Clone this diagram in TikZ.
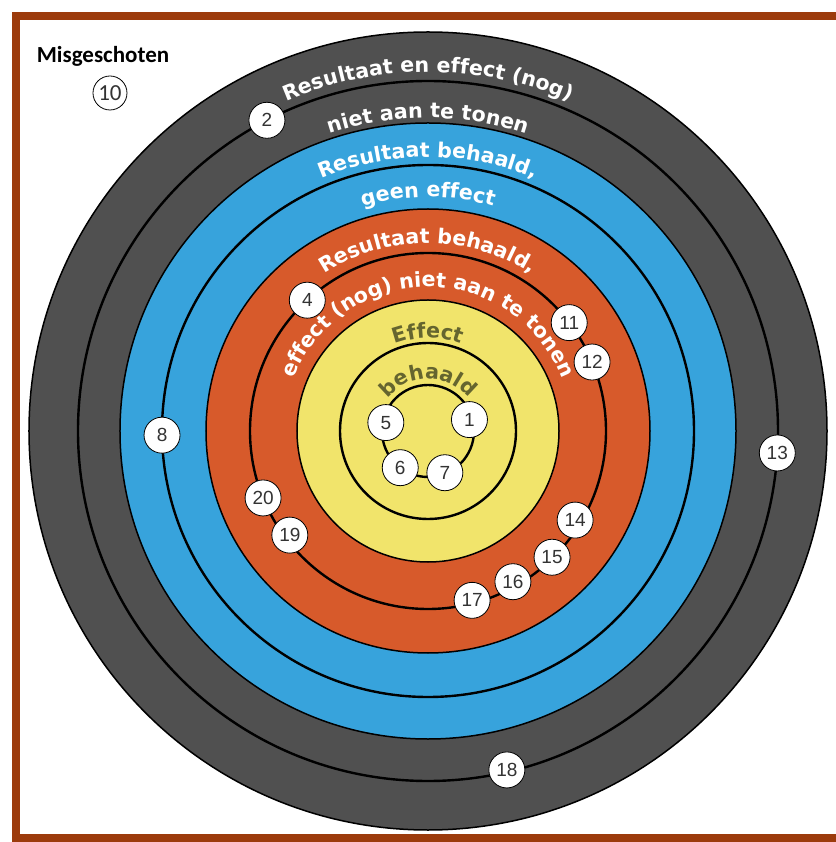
\documentclass[tikz,border=0pt]{standalone}
\usepackage{fontspec}
\usetikzlibrary{decorations.text}
\newfontfamily\ringfont{DejaVu Sans}
\newfontfamily\numfont{Liberation Sans}
\newfontfamily\notefont{Carlito}
\definecolor{framebrown}{HTML}{9C3B0C}
\definecolor{ringgray}{HTML}{505050}
\definecolor{ringblue}{HTML}{37A3DC}
\definecolor{ringred}{HTML}{D75A2B}
\definecolor{ringyellow}{HTML}{F1E46B}
\definecolor{ringolive}{HTML}{65652F}
\tikzset{
  band/.style={draw=black,line width=1.5pt},
  ringline/.style={draw=black,line width=2.4pt},
  shot/.style={circle,draw=black,fill=white,line width=0.8pt,minimum size=36pt,inner sep=0pt,
    font=\numfont\fontsize{19}{19}\selectfont,text=black!80},
  ringtext/.style 2 args={decorate,decoration={text along path,text align=center,text color=#1,
    text={|\ringfont\bfseries\fontsize{20.6}{20.6}\selectfont|#2}}}
}
\begin{document}
\begin{tikzpicture}[x=1pt,y=1pt]
\useasboundingbox (-428,-411) rectangle (407,431);
\draw[framebrown,line width=8pt] (-412,-407) rectangle (412,415);
\coordinate (O) at (0,0);
\filldraw[fill=ringgray,band] (O) circle[radius=399];
\draw[ringline] (O) circle[radius=350];
\filldraw[fill=ringblue,band] (O) circle[radius=308];
\draw[ringline] (O) circle[radius=266];
\filldraw[fill=ringred,band] (O) circle[radius=222];
\draw[ringline] (O) circle[radius=178];
\filldraw[fill=ringyellow,band] (O) circle[radius=131];
\draw[ringline] (O) circle[radius=88];
\draw[ringline] (O) circle[radius=46];
\path[ringtext={white}{Resultaat en effect (nog)}] (180:359) arc[start angle=180,end angle=0,radius=359];
\path[ringtext={white}{niet aan te tonen}] (180:313) arc[start angle=180,end angle=0,radius=313];
\path[ringtext={white}{Resultaat behaald,}] (180:274) arc[start angle=180,end angle=0,radius=274];
\path[ringtext={white}{geen effect}] (180:234) arc[start angle=180,end angle=0,radius=234];
\path[ringtext={white}{Resultaat behaald,}] (180:188) arc[start angle=180,end angle=0,radius=188];
\path[ringtext={white}{effect (nog) niet aan te tonen}] (180:144) arc[start angle=180,end angle=0,radius=144];
\path[ringtext={ringolive}{Effect}] (180:93) arc[start angle=180,end angle=0,radius=93];
\path[ringtext={ringolive}{behaald}] (180:52) arc[start angle=180,end angle=0,radius=52];
\foreach \n/\a/\r in {2/117.4/350,4/132.7/178,8/180.9/266,11/37.5/178,12/22.8/178,13/-3.6/350,
  20/202.1/178,19/217/173,14/-31.2/172,15/-45.5/177,16/-60.6/173,17/-75.4/175,18/-76.9/348,
  1/15.4/43,5/168.7/43,6/232.9/46,7/-68/45}
  \node[shot] (s\n) at (\a:\r) {\n};
\node[font=\notefont\bfseries\fontsize{23}{23}\selectfont] (miss) at (-325,375) {Misgeschoten};
\node[shot,minimum size=34pt,font=\notefont\fontsize{23}{23}\selectfont] (s10) at (-318,338) {10};
\end{tikzpicture}
\end{document}
